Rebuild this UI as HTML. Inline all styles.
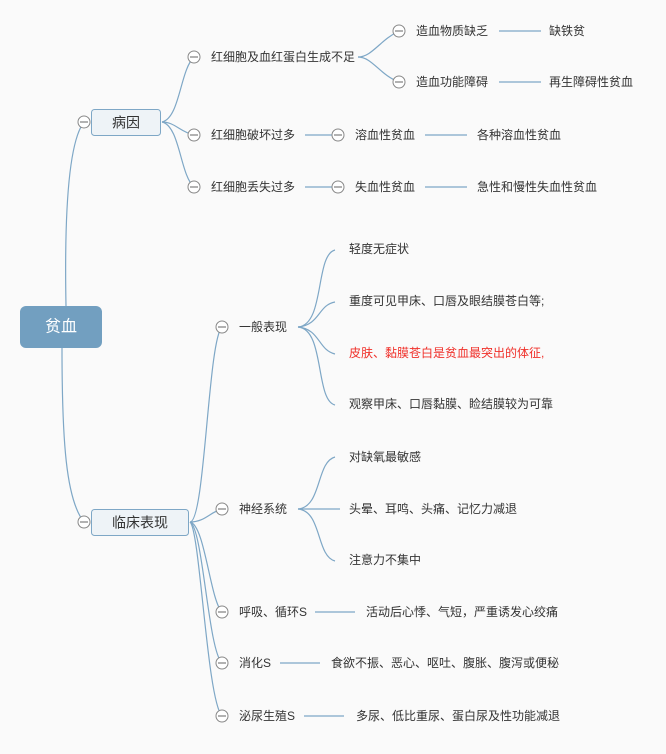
<!DOCTYPE html>
<html><head><meta charset="utf-8"><style>
html,body{margin:0;padding:0;background:#fafafa;}
svg text{font-family:"Liberation Sans","Noto Sans CJK SC",sans-serif;font-size:12px;fill:#333;dominant-baseline:central;}
</style></head><body>
<svg width="666" height="749" xmlns="http://www.w3.org/2000/svg">
<g fill="none" stroke="#7ea7c6" stroke-width="1.2">
<path d="M66,306 C64,200 70,140 84,122"/>
<path d="M62,348 C62,440 66,500 84,522"/>
<path d="M162,122 C180,118 180,70 194,57"/>
<path d="M162,122 C175,122 180,132 194,135"/>
<path d="M162,122 C180,126 180,175 194,187"/>
<path d="M358,57 C372,57 380,40 399,31"/>
<path d="M358,57 C372,57 380,75 399,82"/>
<path d="M499,31 H541"/><path d="M499,82 H541"/>
<path d="M305,135 H333"/><path d="M305,187 H333"/>
<path d="M425,135 H467"/><path d="M425,187 H467"/>
<path d="M190,522 C205,522 208,340 222,327"/>
<path d="M190,522 C205,522 210,512 222,509"/>
<path d="M190,522 C205,525 210,600 222,612"/>
<path d="M190,522 C203,528 208,650 222,663"/>
<path d="M190,522 C200,530 207,700 222,716"/>
<path d="M298,327 C325,325 315,255 335,250"/>
<path d="M298,327 C320,325 318,305 335,302"/>
<path d="M298,327 C320,329 318,350 335,354"/>
<path d="M298,327 C325,329 315,400 335,405"/>
<path d="M298,509 C322,507 316,462 335,457"/>
<path d="M298,509 H340"/>
<path d="M298,509 C322,511 316,556 335,561"/>
<path d="M315,612 H355"/><path d="M280,663 H320"/><path d="M304,716 H344"/>
</g>
<rect x="20" y="306" width="82" height="42" rx="6" fill="#729fc0"/>
<text x="61" y="327" text-anchor="middle" style="fill:#fff;font-size:16px">贫血</text>
<rect x="91.5" y="109.5" width="69" height="26" rx="3" fill="#eef3f7" stroke="#7ea7c6"/>
<text x="126" y="122.5" text-anchor="middle" style="font-size:14px">病因</text>
<rect x="91.5" y="509.5" width="97" height="26" rx="3" fill="#eef3f7" stroke="#7ea7c6"/>
<text x="140" y="522.5" text-anchor="middle" style="font-size:14px">临床表现</text>
<g fill="#fff" stroke="#888" stroke-width="1">
<circle cx="84" cy="122" r="6"/><circle cx="84" cy="522" r="6"/>
<circle cx="194" cy="57" r="6"/><circle cx="194" cy="135" r="6"/><circle cx="194" cy="187" r="6"/>
<circle cx="399" cy="31" r="6"/><circle cx="399" cy="82" r="6"/>
<circle cx="338" cy="135" r="6"/><circle cx="338" cy="187" r="6"/>
<circle cx="222" cy="327" r="6"/><circle cx="222" cy="509" r="6"/><circle cx="222" cy="612" r="6"/><circle cx="222" cy="663" r="6"/><circle cx="222" cy="716" r="6"/>
</g>
<g stroke="#666" stroke-width="1">
<path d="M80,122H88M80,522H88M190,57H198M190,135H198M190,187H198M395,31H403M395,82H403M334,135H342M334,187H342M218,327H226M218,509H226M218,612H226M218,663H226M218,716H226"/>
</g>
<text x="211" y="57">红细胞及血红蛋白生成不足</text>
<text x="211" y="135">红细胞破坏过多</text>
<text x="211" y="187">红细胞丢失过多</text>
<text x="416" y="31">造血物质缺乏</text>
<text x="416" y="82">造血功能障碍</text>
<text x="549" y="31">缺铁贫</text>
<text x="549" y="82">再生障碍性贫血</text>
<text x="355" y="135">溶血性贫血</text>
<text x="355" y="187">失血性贫血</text>
<text x="477" y="135">各种溶血性贫血</text>
<text x="477" y="187">急性和慢性失血性贫血</text>
<text x="239" y="327">一般表现</text>
<text x="349" y="249">轻度无症状</text>
<text x="349" y="301">重度可见甲床、口唇及眼结膜苍白等;</text>
<text x="349" y="353" style="fill:#f0302a">皮肤、黏膜苍白是贫血最突出的体征,</text>
<text x="349" y="404">观察甲床、口唇黏膜、睑结膜较为可靠</text>
<text x="239" y="509">神经系统</text>
<text x="349" y="457">对缺氧最敏感</text>
<text x="349" y="509">头晕、耳鸣、头痛、记忆力减退</text>
<text x="349" y="560">注意力不集中</text>
<text x="239" y="612">呼吸、循环S</text>
<text x="366" y="612">活动后心悸、气短，严重诱发心绞痛</text>
<text x="239" y="663">消化S</text>
<text x="331" y="663">食欲不振、恶心、呕吐、腹胀、腹泻或便秘</text>
<text x="239" y="716">泌尿生殖S</text>
<text x="356" y="716">多尿、低比重尿、蛋白尿及性功能减退</text>
</svg>
</body></html>
